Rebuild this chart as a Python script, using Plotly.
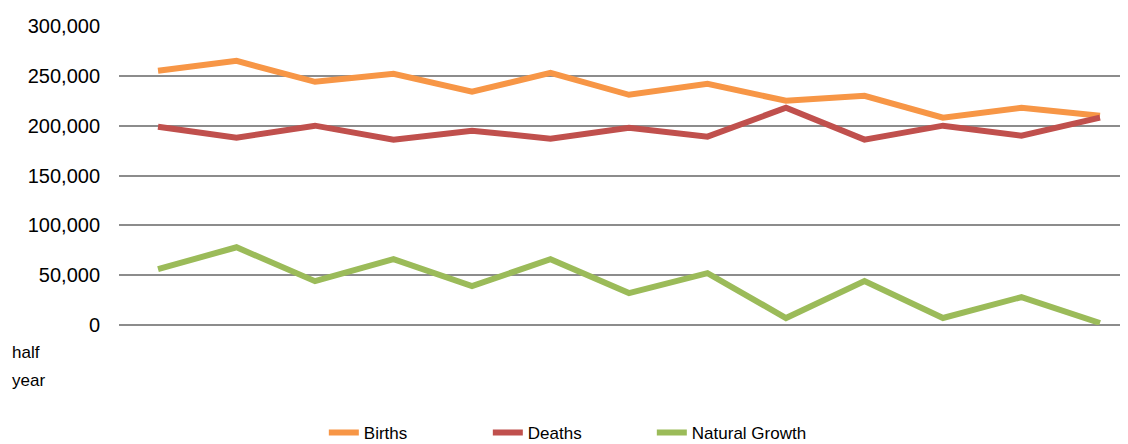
import plotly.graph_objects as go

periods = list(range(13))
births = [255000, 265000, 244000, 252000, 234000, 253000, 231000, 242000, 225000, 230000, 208000, 218000, 210000]
deaths = [199000, 188000, 200000, 186000, 195000, 187000, 198000, 189000, 218000, 186000, 200000, 190000, 208000]
natural_growth = [56000, 78000, 44000, 66000, 39000, 66000, 32000, 52000, 7000, 44000, 7000, 28000, 2000]
y_ticks = [0, 50000, 100000, 150000, 200000, 250000, 300000]
axis_note = ["half", "year"]

series = [("Births", births, "#F79646"), ("Deaths", deaths, "#C0504D"), ("Natural Growth", natural_growth, "#9BBB59")]

fig = go.Figure()
for name, vals, col in series:
    fig.add_trace(go.Scatter(x=periods, y=vals, name=name, mode="lines",
                             line=dict(color=col, width=6)))

fig.update_layout(
    width=1120, height=436,
    margin=dict(l=111, r=0, t=18, b=119, autoexpand=False),
    plot_bgcolor="white", paper_bgcolor="white",
    font=dict(family="Liberation Sans, Arial", size=20, color="#000"),
    showlegend=True,
    legend=dict(orientation="h", x=0.203, xanchor="left", y=-0.301, yanchor="top",
                font=dict(family="Liberation Sans, Arial", size=17),
                entrywidth=119, itemwidth=30),
)
fig.update_xaxes(range=[-0.497, 12.357], showticklabels=False, showgrid=False,
                 zeroline=False, showline=False)
fig.update_yaxes(range=[0, 300000], tickvals=y_ticks, tickformat=",d",
                 showgrid=True, gridcolor="#8c8c8c", gridwidth=1.5,
                 zeroline=True, zerolinecolor="#8c8c8c", zerolinewidth=1.5,
                 showline=False, ticklabelstandoff=18)
note_y = [344, 373]
for t, yy in zip(axis_note, note_y):
    fig.add_annotation(text=t, xref="paper", yref="paper", x=-0.108, xanchor="left",
                       y=(317 - yy) / 299, yanchor="middle", showarrow=False,
                       font=dict(size=17))

fig.write_html("out.html")
